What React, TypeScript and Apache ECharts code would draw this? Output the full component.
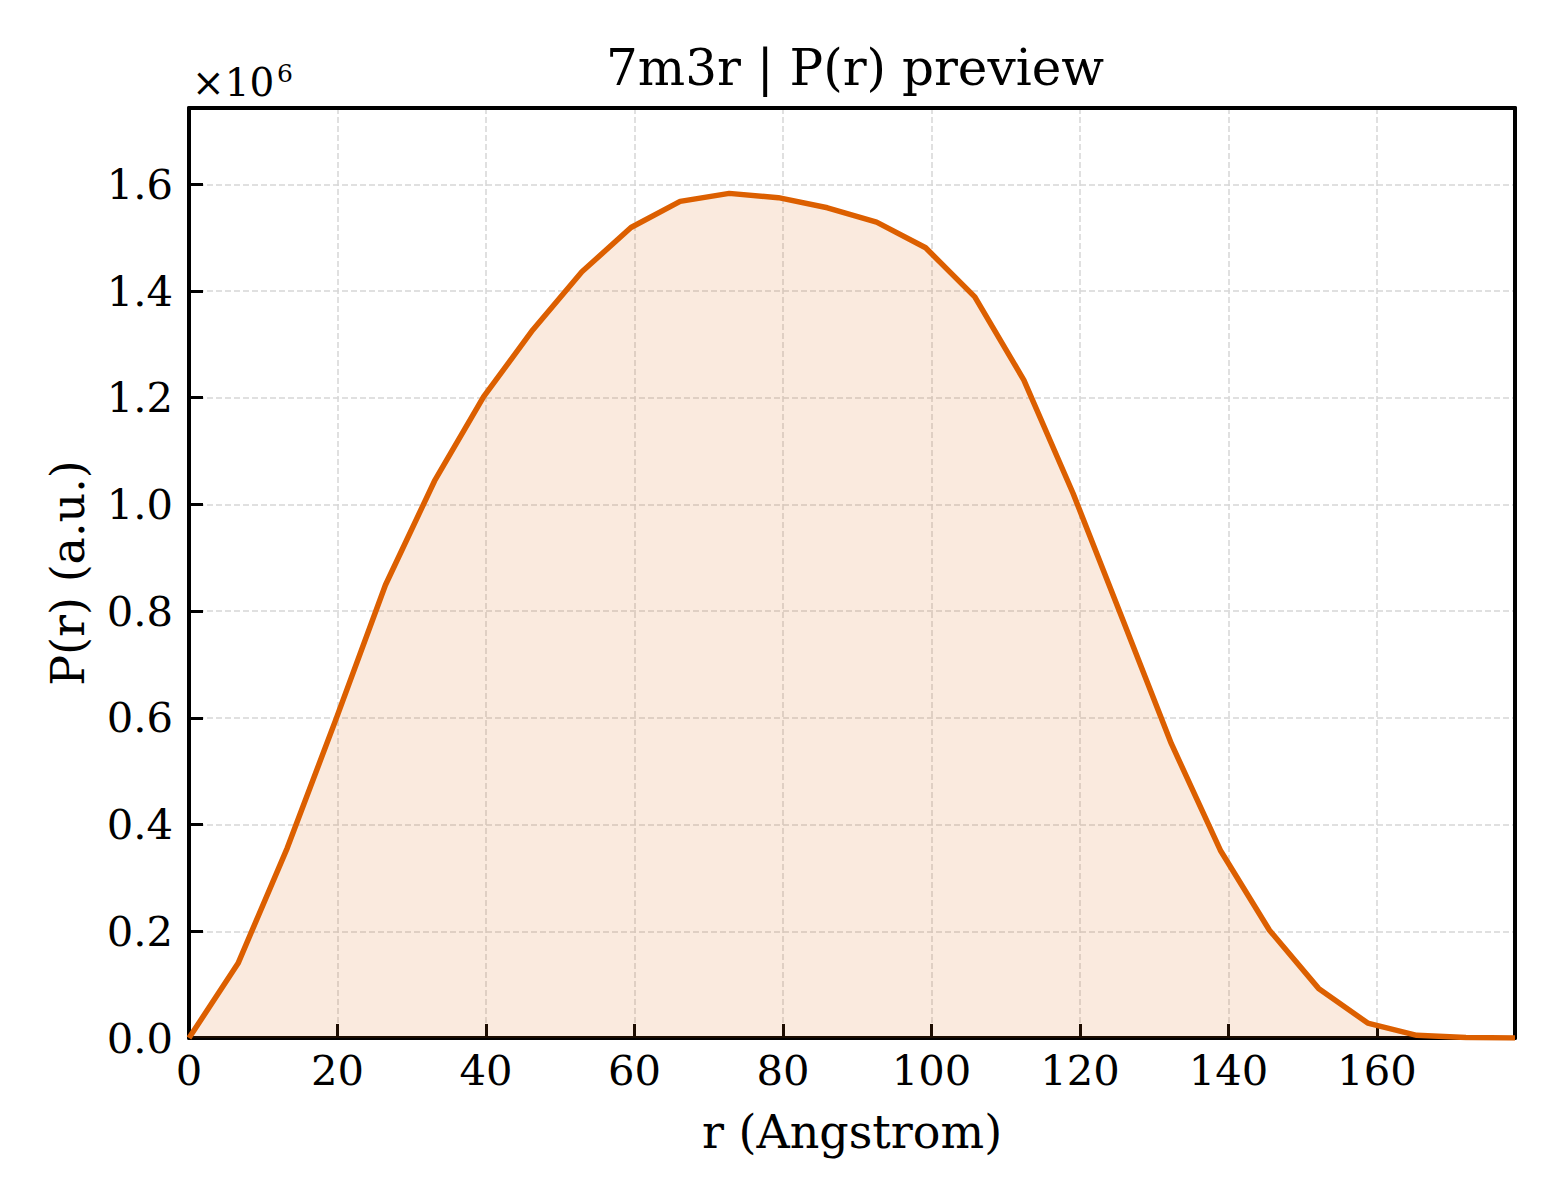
import React, { useEffect, useRef } from "react";
import * as echarts from "echarts";

// r in Angstrom
const rValues: number[] = [
  0, 6.61, 13.23, 19.84, 26.46, 33.07, 39.69, 46.3, 52.92, 59.53, 66.15, 72.76,
  79.38, 85.99, 92.61, 99.22, 105.84, 112.45, 119.07, 125.68, 132.3, 138.91,
  145.53, 152.14, 158.76, 165.37, 171.99, 178.6,
];

// P(r) in a.u.
const prValues: number[] = [
  0, 140000, 356000, 599000, 849000, 1044000, 1202000, 1327000, 1436000,
  1519000, 1568000, 1583000, 1575000, 1556000, 1529000, 1481000, 1389000,
  1233000, 1021000, 787000, 552000, 352000, 202000, 93000, 28000, 5000, 1000, 0,
];

const titleText = "7m3r | P(r) preview";
const xName = "r (Angstrom)";
const yName = "P(r) (a.u.)";
const xMax = 178.6;
const yMax = 1743000;
const xTickStep = 20;
const yTickStep = 200000;

const FONT = "'DejaVu Serif', 'Liberation Serif', serif";
const LINE_COLOR = "#dc5f00";

const frameAxis = {
  show: true,
  axisLine: { show: true, onZero: false, lineStyle: { color: "#000", width: 4 } },
  axisTick: { show: false },
  axisLabel: { show: false },
  splitLine: { show: false },
};

export default function App() {
  const ref = useRef<HTMLDivElement>(null);

  useEffect(() => {
    if (!ref.current) return;
    const chart = echarts.init(ref.current, undefined, { renderer: "svg" });
    const data = rValues.map((r, i) => [r, prValues[i]]);
    chart.setOption({
      animation: false,
      backgroundColor: "#ffffff",
      title: {
        text: titleText,
        left: 850,
        top: 38,
        textAlign: "center",
        textStyle: {
          fontFamily: FONT,
          fontSize: 50,
          fontWeight: "normal",
          color: "#000",
        },
      },
      graphic: [
        {
          type: "text",
          x: 192,
          y: 82,
          style: {
            text: "×10",
            fontFamily: FONT,
            fontSize: 39,
            fill: "#000",
            verticalAlign: "middle",
            align: "left",
          },
        },
        {
          type: "text",
          x: 277,
          y: 73,
          style: {
            text: "6",
            fontFamily: FONT,
            fontSize: 25,
            fill: "#000",
            verticalAlign: "middle",
            align: "left",
          },
        },
      ],
      grid: {
        left: 189,
        right: 45,
        top: 108,
        bottom: 162,
        show: false,
      },
      xAxis: [
        {
          type: "value",
          min: 0,
          max: xMax,
          interval: xTickStep,
          name: xName,
          nameLocation: "middle",
          nameGap: 71,
          nameTextStyle: { fontFamily: FONT, fontSize: 46, color: "#000" },
          axisLine: { show: true, onZero: false, lineStyle: { color: "#000", width: 4 } },
          axisTick: {
            show: true,
            inside: true,
            length: 14,
            lineStyle: { color: "#000", width: 3 },
          },
          axisLabel: {
            showMaxLabel: false,
            margin: 11,
            fontFamily: FONT,
            fontSize: 41.7,
            color: "#000",
          },
          splitLine: {
            show: true,
            lineStyle: { color: "#d6d6d6", width: 1.5, type: [6, 3] },
          },
        },
        {
          type: "value",
          position: "top",
          min: 0,
          max: xMax,
          ...frameAxis,
        },
      ],
      yAxis: [
        {
          type: "value",
          min: 0,
          max: yMax,
          interval: yTickStep,
          name: yName,
          nameLocation: "middle",
          nameGap: 98,
          nameRotate: 90,
          nameTextStyle: { fontFamily: FONT, fontSize: 46, color: "#000" },
          axisLine: { show: true, onZero: false, lineStyle: { color: "#000", width: 4 } },
          axisTick: {
            show: true,
            inside: true,
            length: 14,
            lineStyle: { color: "#000", width: 3 },
          },
          axisLabel: {
            showMaxLabel: false,
            margin: 16,
            fontFamily: FONT,
            fontSize: 41.7,
            color: "#000",
            formatter: (v: number) => (v / 1e6).toFixed(1),
          },
          splitLine: {
            show: true,
            lineStyle: { color: "#d6d6d6", width: 1.5, type: [6, 3] },
          },
        },
        {
          type: "value",
          position: "right",
          min: 0,
          max: yMax,
          ...frameAxis,
        },
      ],
      series: [
        {
          type: "line",
          xAxisIndex: 0,
          yAxisIndex: 0,
          data,
          showSymbol: false,
          symbol: "none",
          lineStyle: { color: LINE_COLOR, width: 5.5 },
          itemStyle: { color: LINE_COLOR },
          areaStyle: { color: LINE_COLOR, opacity: 0.13 },
          z: 3,
        },
      ],
    });
    return () => chart.dispose();
  }, []);

  return (
    <div
      ref={ref}
      style={{ position: "fixed", left: 0, top: 0, width: 1560, height: 1200 }}
    />
  );
}
